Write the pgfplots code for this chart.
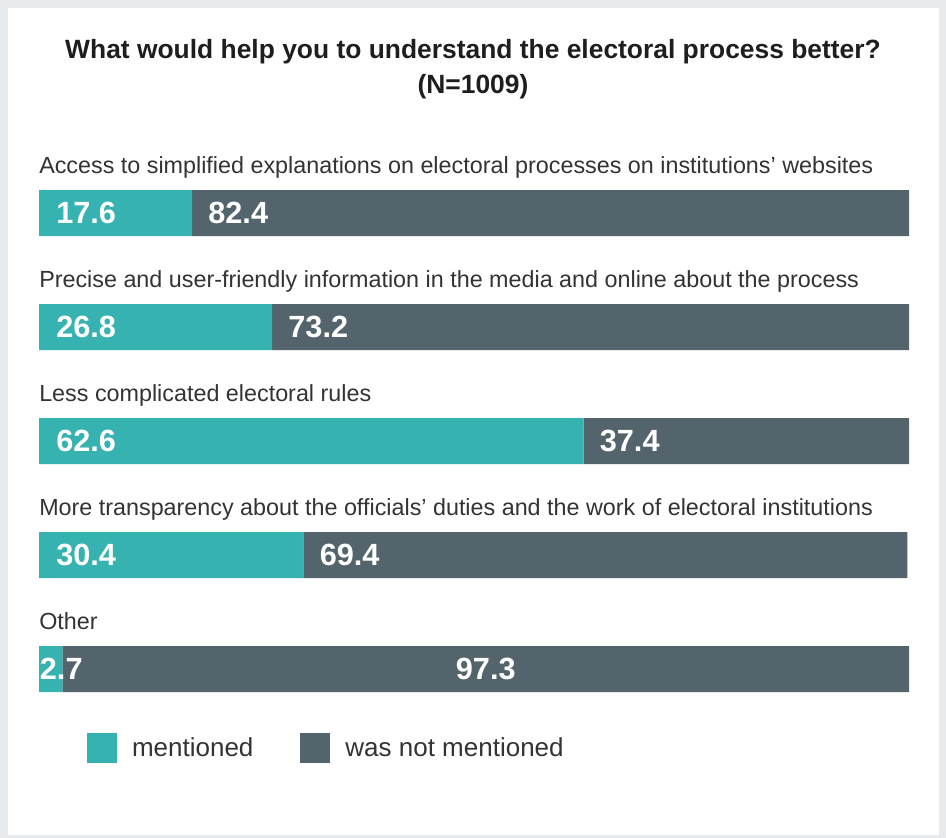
\documentclass[border=0pt]{standalone}
\usepackage{pgfplots}
\usepackage{pgfplotstable}
\pgfplotsset{compat=1.18}
\usepackage{fontspec}
\setmainfont{Liberation Sans}
\definecolor{mteal}{HTML}{36B2B0}
\definecolor{mslate}{HTML}{53646C}
\definecolor{bordergray}{HTML}{E8EBEE}
\definecolor{labelgray}{HTML}{333333}
\definecolor{titlecol}{HTML}{1E1E1E}
\pgfplotstableread{
row mentioned notmentioned
4 17.6 82.4
3 26.8 73.2
2 62.6 37.4
1 30.4 69.4
0 2.7 97.3
}\datatable
\tikzset{
  catlabel/.style={inner sep=0pt, anchor=base west, font=\fontsize{17.5}{20}\selectfont, text=labelgray, yshift=30pt},
  vallabel/.style={inner sep=0pt, anchor=west, font=\bfseries\fontsize{23}{25}\selectfont, text=white},
}
\begin{document}
\begin{tikzpicture}
\fill[bordergray] (0pt,0pt) rectangle (709.5pt,-628.5pt);
\fill[white] (6pt,-6pt) rectangle (704.25pt,-626.25pt);
\node[font=\bfseries\fontsize{19.8}{26.25}\selectfont, align=center, text=titlecol, anchor=base] at (354.75pt,-70.5pt) {What would help you to understand the electoral process better?\\(N=1009)};
\begin{axis}[
  at={(29.25pt,-544.5pt)}, anchor=south west,
  scale only axis, width=652.5pt, height=513pt,
  xmin=0, xmax=100, ymin=-0.5, ymax=5.5,
  hide axis, xbar stacked, bar width=34.5pt,
  clip=false,
  legend columns=2,
  legend style={at={(axis cs:5.52,-0.693)}, anchor=west, draw=none, fill=none,
    inner sep=0pt, outer sep=0pt,
    nodes={inner sep=0pt, anchor=west, font=\fontsize{19.5}{22}\selectfont, text=labelgray},
    /tikz/every odd column/.append style={column sep=11.25pt},
    /tikz/every even column/.append style={column sep=35.25pt}},
  legend image code/.code={\fill[#1] (0pt,-11.25pt) rectangle (22.5pt,11.25pt);},
]
\addplot[fill=mteal, draw=none] table[x=mentioned, y=row]{\datatable};
\addlegendentry{mentioned}
\addplot[fill=mslate, draw=none] table[x=notmentioned, y=row]{\datatable};
\addlegendentry{was not mentioned}
\node[catlabel] at (axis cs:0,4) {Access to simplified explanations on electoral processes on institutions’ websites};
\node[catlabel] at (axis cs:0,3) {Precise and user-friendly information in the media and online about the process};
\node[catlabel] at (axis cs:0,2) {Less complicated electoral rules};
\node[catlabel] at (axis cs:0,1) {More transparency about the officials’ duties and the work of electoral institutions};
\node[catlabel] at (axis cs:0,0) {Other};
\coordinate (a0) at (axis cs:0,4);
\coordinate (b0) at (axis cs:17.6,4);
\coordinate (a1) at (axis cs:0,3);
\coordinate (b1) at (axis cs:26.8,3);
\coordinate (a2) at (axis cs:0,2);
\coordinate (b2) at (axis cs:62.6,2);
\coordinate (a3) at (axis cs:0,1);
\coordinate (b3) at (axis cs:30.4,1);
\coordinate (a4) at (axis cs:0,0);
\coordinate (b4) at (axis cs:51.35,0);
\end{axis}
\node[vallabel, xshift=12.75pt] at (a0) {17.6};
\node[vallabel, xshift=12pt] at (b0) {82.4};
\node[vallabel, xshift=12.75pt] at (a1) {26.8};
\node[vallabel, xshift=12pt] at (b1) {73.2};
\node[vallabel, xshift=12.75pt] at (a2) {62.6};
\node[vallabel, xshift=12pt] at (b2) {37.4};
\node[vallabel, xshift=12.75pt] at (a3) {30.4};
\node[vallabel, xshift=12pt] at (b3) {69.4};
\node[vallabel, xshift=0.5pt] at (a4) {2.7};
\node[vallabel, anchor=center] at (b4) {97.3};
\pgfresetboundingbox
\useasboundingbox (0pt,0pt) rectangle (709.5pt,-628.5pt);
\end{tikzpicture}
\end{document}
